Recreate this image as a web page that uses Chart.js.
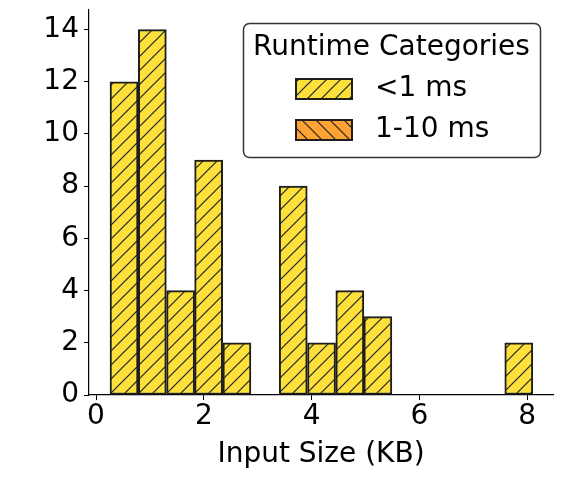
<!DOCTYPE html>
<html>
<head>
<meta charset="utf-8">
<script src="https://cdn.jsdelivr.net/npm/chart.js@4"></script>
<style>
  html, body { margin:0; padding:0; background:#fff; }
  #wrap { width:563px; height:477px; }
</style>
</head>
<body>
<div id="wrap"><canvas id="histChart" width="563" height="477"></canvas></div>
<script>
// histogram bins (KB) and counts
const binEdges = [0.26, 0.78, 1.31, 1.83, 2.35, 2.88, 3.40, 3.92, 4.45, 4.97, 5.49, 6.01, 6.54, 7.06, 7.58, 8.11];
const fastCounts = [12, 14, 4, 9, 2, 0, 8, 2, 4, 3, 0, 0, 0, 0, 2];
const mediumCounts = [0, 0, 0, 0, 0, 0, 0, 0, 0, 0, 0, 0, 0, 0, 0];
const seriesLabels = ["<1 ms", "1-10 ms"];
const xTickStep = 2;
const yTickStep = 2;

const FONT = "'DejaVu Sans', sans-serif";
const EDGE = "#1e1e1e";

function hatch(fill, dir){
    const s = 14;
    const c = document.createElement("canvas");
    c.width = s; c.height = s;
    const g = c.getContext("2d");
    g.fillStyle = fill;
    g.fillRect(0,0,s,s);
    g.strokeStyle = "#222";
    g.lineWidth = 1.2;
    g.beginPath();
    if(dir === "/"){
        g.moveTo(-2, s+2); g.lineTo(s+2, -2);
        g.moveTo(-2, 2); g.lineTo(2, -2);
        g.moveTo(s-2, s+2); g.lineTo(s+2, s-2);
    }else{
        g.moveTo(-2, -2); g.lineTo(s+2, s+2);
        g.moveTo(-2, s-2); g.lineTo(2, s+2);
        g.moveTo(s-2, -2); g.lineTo(s+2, 2);
    }
    g.stroke();
    return document.getElementById("histChart").getContext("2d").createPattern(c, "repeat");
}

const yellowHatch = hatch("#fde03a", "/");
const orangeHatch = hatch("#ffa333", "\\");

function toPoints(counts){
    return counts.map((v,i)=>({ x:(binEdges[i]+binEdges[i+1])/2, y:v }));
}

function filled(pattern){
    return (c)=> (c.raw && c.raw.y ? pattern : "rgba(0,0,0,0)");
}

const legendBox = {
    id:"legendBox",
    afterDraw(chart){
        const ctx = chart.ctx;
        const x = 243, y = 23, w = 297, h = 134, r = 6;
        ctx.save();
        ctx.beginPath();
        ctx.roundRect(x+0.5, y+0.5, w, h, r);
        ctx.fillStyle = "rgba(255,255,255,0.85)";
        ctx.fill();
        ctx.strokeStyle = "#333";
        ctx.lineWidth = 1.5;
        ctx.stroke();

        ctx.fillStyle = "#000";
        ctx.font = "28px " + FONT;
        ctx.textAlign = "center";
        ctx.textBaseline = "middle";
        ctx.fillText("Runtime Categories", x + w/2, 48);

        const fills = [yellowHatch, orangeHatch];
        const rows = [89, 130];
        ctx.textAlign = "left";
        rows.forEach((ry,i)=>{
            ctx.fillStyle = fills[i];
            ctx.fillRect(296, ry-10, 56, 20);
            ctx.strokeStyle = EDGE;
            ctx.lineWidth = 2;
            ctx.strokeRect(296, ry-10, 56, 20);
            ctx.fillStyle = "#000";
            ctx.fillText(seriesLabels[i], 375, ry);
        });
        ctx.restore();
    }
};

new Chart(document.getElementById("histChart"),{
    type:"bar",
    data:{
        datasets:[{
            label:seriesLabels[0],
            data:toPoints(fastCounts),
            backgroundColor:filled(yellowHatch),
            borderColor:EDGE,
            borderWidth:(c)=> (c.raw && c.raw.y ? 2 : 0),
            borderSkipped:false,
            barPercentage:1,
            categoryPercentage:1
        },{
            label:seriesLabels[1],
            data:toPoints(mediumCounts),
            backgroundColor:filled(orangeHatch),
            borderColor:EDGE,
            borderWidth:(c)=> (c.raw && c.raw.y ? 2 : 0),
            borderSkipped:false,
            barPercentage:1,
            categoryPercentage:1
        }]
    },
    options:{
        responsive:false,
        animation:false,
        layout:{ padding:{ top:10, right:10, left:0, bottom:5 } },
        plugins:{
            legend:{ display:false },
            tooltip:{ enabled:false }
        },
        scales:{
            x:{
                type:"linear",
                stacked:true,
                offset:false,
                min:-0.13,
                max:8.48,
                afterFit:(s)=>{ s.height = 77; s.paddingLeft = 0; s.paddingRight = 0; },
                grid:{ display:true, offset:false, drawOnChartArea:false, drawTicks:true, tickLength:5, color:"#000" },
                border:{ display:true, color:"#000", width:1.2 },
                ticks:{ stepSize:xTickStep, includeBounds:false, color:"#000", font:{ family:FONT, size:28 }, padding:0, maxRotation:0 },
                title:{ display:true, text:"Input Size (KB)", color:"#000", font:{ family:FONT, size:28 }, padding:{ top:0, bottom:0 } }
            },
            y:{
                stacked:true,
                min:0,
                max:14.75,
                afterFit:(s)=>{ s.width = 89; s.paddingTop = 0; s.paddingBottom = 0; },
                grid:{ display:true, offset:false, drawOnChartArea:false, drawTicks:true, tickLength:5, color:"#000" },
                border:{ display:true, color:"#000", width:1.2 },
                ticks:{ stepSize:yTickStep, includeBounds:false, color:"#000", font:{ family:FONT, size:28 }, padding:5 }
            }
        }
    },
    plugins:[legendBox]
});
</script>
</body>
</html>
